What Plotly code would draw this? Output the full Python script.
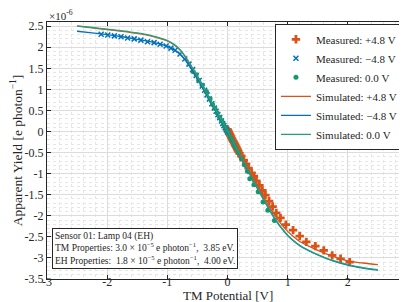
import plotly.graph_objects as go

# ---- Data (values in units of 1e-6 e/photon) ----
sim_v = [-2.5, -2.25, -2.0, -1.75, -1.5, -1.25, -1.0, -0.9, -0.8, -0.7, -0.6, -0.5, -0.4, -0.3,
         -0.2, -0.1, 0.0, 0.1, 0.2, 0.3, 0.4, 0.5, 0.6, 0.7, 0.8, 0.9, 1.0, 1.1, 1.2, 1.35, 1.5,
         1.75, 2.0, 2.25, 2.5]
sim_pos = [2.50, 2.46, 2.42, 2.38, 2.33, 2.26, 2.15, 2.07, 1.95, 1.77, 1.54, 1.29, 1.03, 0.77,
           0.52, 0.26, 0.0, -0.26, -0.52, -0.79, -1.05, -1.32, -1.56, -1.80, -2.02, -2.21, -2.37,
           -2.50, -2.61, -2.72, -2.82, -2.96, -3.07, -3.12, -3.16]
sim_neg = [2.38, 2.34, 2.30, 2.25, 2.19, 2.12, 2.02, 1.95, 1.85, 1.69, 1.48, 1.25, 1.00, 0.75,
           0.50, 0.24, -0.02, -0.28, -0.55, -0.82, -1.09, -1.36, -1.62, -1.87, -2.10, -2.30, -2.47,
           -2.60, -2.71, -2.83, -2.93, -3.07, -3.17, -3.24, -3.29]
sim_zero = [2.51, 2.47, 2.43, 2.39, 2.34, 2.27, 2.16, 2.08, 1.96, 1.78, 1.55, 1.30, 1.04, 0.78,
            0.52, 0.26, 0.0, -0.27, -0.54, -0.81, -1.08, -1.35, -1.61, -1.86, -2.09, -2.29, -2.46,
            -2.59, -2.70, -2.82, -2.92, -3.06, -3.16, -3.23, -3.28]

meas_pos_v = [0.00, 0.01, 0.02, 0.03, 0.04, 0.05, 0.06, 0.07, 0.08, 0.09, 0.10, 0.11, 0.12, 0.13,
              0.14, 0.15, 0.16, 0.17, 0.18, 0.20, 0.23, 0.27, 0.31, 0.35, 0.40, 0.44, 0.48, 0.53,
              0.58, 0.63, 0.69, 0.75, 0.81, 0.88, 0.97, 1.09, 1.20, 1.31, 1.46, 1.60, 1.74, 1.88, 2.03]
meas_pos_y = [0.05, 0.02, -0.01, -0.04, -0.07, -0.10, -0.13, -0.16, -0.19, -0.22, -0.24, -0.27,
              -0.30, -0.33, -0.36, -0.38, -0.41, -0.44, -0.47, -0.52, -0.58, -0.68, -0.77, -0.87,
              -0.98, -1.06, -1.17, -1.28, -1.40, -1.51, -1.65, -1.78, -1.93, -2.05, -2.21, -2.34,
              -2.48, -2.62, -2.72, -2.82, -2.94, -3.02, -3.10]

meas_neg_v = [-2.10, -1.99, -1.88, -1.77, -1.66, -1.55, -1.44, -1.33, -1.22, -1.12, -1.02, -0.94,
              -0.87, -0.79, -0.71, -0.64, -0.58, -0.52, -0.47, -0.42, -0.38, -0.34, -0.30, -0.26,
              -0.22, -0.19, -0.16, -0.13, -0.10, -0.08, -0.06, -0.04, -0.02, 0.00]
meas_neg_y = [2.31, 2.29, 2.27, 2.25, 2.22, 2.20, 2.17, 2.13, 2.11, 2.07, 2.03, 1.98, 1.93, 1.84,
              1.72, 1.60, 1.47, 1.33, 1.21, 1.08, 0.98, 0.87, 0.77, 0.66, 0.56, 0.48, 0.40, 0.33,
              0.25, 0.19, 0.14, 0.09, 0.04, -0.01]

meas_zero_v = [-0.57, -0.52, -0.48, -0.42, -0.35, -0.29, -0.25, -0.21, -0.17, -0.13, -0.10, -0.07,
               -0.04, -0.01, 0.02, 0.05, 0.08, 0.11, 0.14, 0.18, 0.23, 0.28, 0.33, 0.37, 0.44,
               0.51, 0.59, 0.67, 0.78]
meas_zero_y = [1.42, 1.35, 1.22, 1.10, 0.95, 0.78, 0.65, 0.55, 0.44, 0.34, 0.26, 0.18, 0.10, 0.02,
               -0.06, -0.14, -0.22, -0.31, -0.39, -0.50, -0.64, -0.79, -0.94, -1.12, -1.26,
               -1.43, -1.67, -1.87, -2.11]

x_ticks = [-3, -2, -1, 0, 1, 2, 3]
x_ticktext = ['-3', '-2', '-1', '0', '1', '2', '3']
y_ticks = [-3.5, -3, -2.5, -2, -1.5, -1, -0.5, 0, 0.5, 1, 1.5, 2, 2.5]
y_ticktext = ['-3.5', '-3', '-2.5', '-2', '-1.5', '-1', '-0.5', '0', '0.5', '1', '1.5', '2', '2.5']

ORANGE = '#D95319'
BLUE = '#0072BD'
GREEN = '#14996A'
GREEN_LINE = '#23A07A'
FONT = '"Liberation Serif", "DejaVu Serif", serif'

fig = go.Figure()
fig.add_trace(go.Scatter(x=meas_pos_v, y=meas_pos_y, mode='markers', name='Measured: +4.8 V',
                         marker=dict(symbol='cross', size=7, color=ORANGE)))
fig.add_trace(go.Scatter(x=meas_neg_v, y=meas_neg_y, mode='markers', name='Measured: \u22124.8 V',
                         marker=dict(symbol='x-thin', size=5, color=BLUE,
                                     line=dict(color=BLUE, width=1.5))))
fig.add_trace(go.Scatter(x=meas_zero_v, y=meas_zero_y, mode='markers', name='Measured: 0.0 V',
                         marker=dict(symbol='circle', size=5, color=GREEN)))
fig.add_trace(go.Scatter(x=sim_v, y=sim_pos, mode='lines', name='Simulated: +4.8 V',
                         line=dict(color=ORANGE, width=1.3, shape='spline')))
fig.add_trace(go.Scatter(x=sim_v, y=sim_neg, mode='lines', name='Simulated: \u22124.8 V',
                         line=dict(color=BLUE, width=1.3, shape='spline')))
fig.add_trace(go.Scatter(x=sim_v, y=sim_zero, mode='lines', name='Simulated: 0.0 V',
                         line=dict(color=GREEN_LINE, width=1.3, shape='spline')))

axis_common = dict(
    showline=True, linecolor='#262626', linewidth=1, mirror='ticks',
    ticks='inside', ticklen=4, tickcolor='#262626', tickwidth=1,
    showgrid=True, gridcolor='#DCDCDC', gridwidth=1, zeroline=False,
    tickfont=dict(size=12, color='#262626', family=FONT),
)

fig.update_xaxes(range=[-3, 3], tickvals=x_ticks, ticktext=x_ticktext, ticklabelstandoff=-8,
                 minor=dict(dtick=0.2, showgrid=True, gridcolor='#E6E6E6', griddash='dot', ticks=''),
                 **axis_common)
fig.update_yaxes(range=[-3.5, 2.6], tickvals=y_ticks, ticktext=y_ticktext,
                 minor=dict(dtick=0.1, showgrid=True, gridcolor='#E6E6E6', griddash='dot', ticks=''),
                 title=dict(text='Apparent Yield [e photon<sup>\u22121</sup>]',
                            font=dict(size=13.5, family=FONT), standoff=3),
                 **axis_common)

fig.update_layout(
    width=407, height=302,
    margin=dict(l=39, r=4, t=14, b=31),
    plot_bgcolor='white', paper_bgcolor='white',
    font=dict(family=FONT, size=12, color='#262626'),
    legend=dict(x=0.986, xanchor='right', y=0.993, yanchor='top',
                bgcolor='white', bordercolor='#262626', borderwidth=1,
                font=dict(size=11, family=FONT), itemwidth=30, tracegroupgap=0),
    showlegend=True,
)

# x-axis title
fig.add_annotation(xref='paper', yref='paper', x=0.5, y=-0.064, xanchor='center', yanchor='middle',
                   text='TM Potential [V]', showarrow=False, font=dict(size=13, family=FONT),
                   borderpad=0)

fig.add_annotation(xref='paper', yref='paper', x=0, y=1, xanchor='left', yanchor='bottom',
                   text='\u00d710<sup>-6</sup>', showarrow=False, font=dict(size=11, family=FONT),
                   yshift=-2)

fig.add_annotation(xref='paper', yref='paper', x=0.014, y=0.04, xanchor='left', yanchor='bottom',
                   align='left', showarrow=False, bgcolor='white', bordercolor='#262626',
                   borderwidth=1, borderpad=2, font=dict(size=9.5, family=FONT),
                   text=('Sensor 01: Lamp 04 (EH)<br>'
                         'TM Properties: 3.0 \u00d7 10<sup>\u22125</sup> e photon<sup>\u22121</sup>,  3.85 eV.<br>'
                         'EH Properties:  1.8 \u00d7 10<sup>\u22125</sup> e photon<sup>\u22121</sup>,  4.00 eV.'))

fig.write_html('out.html')
